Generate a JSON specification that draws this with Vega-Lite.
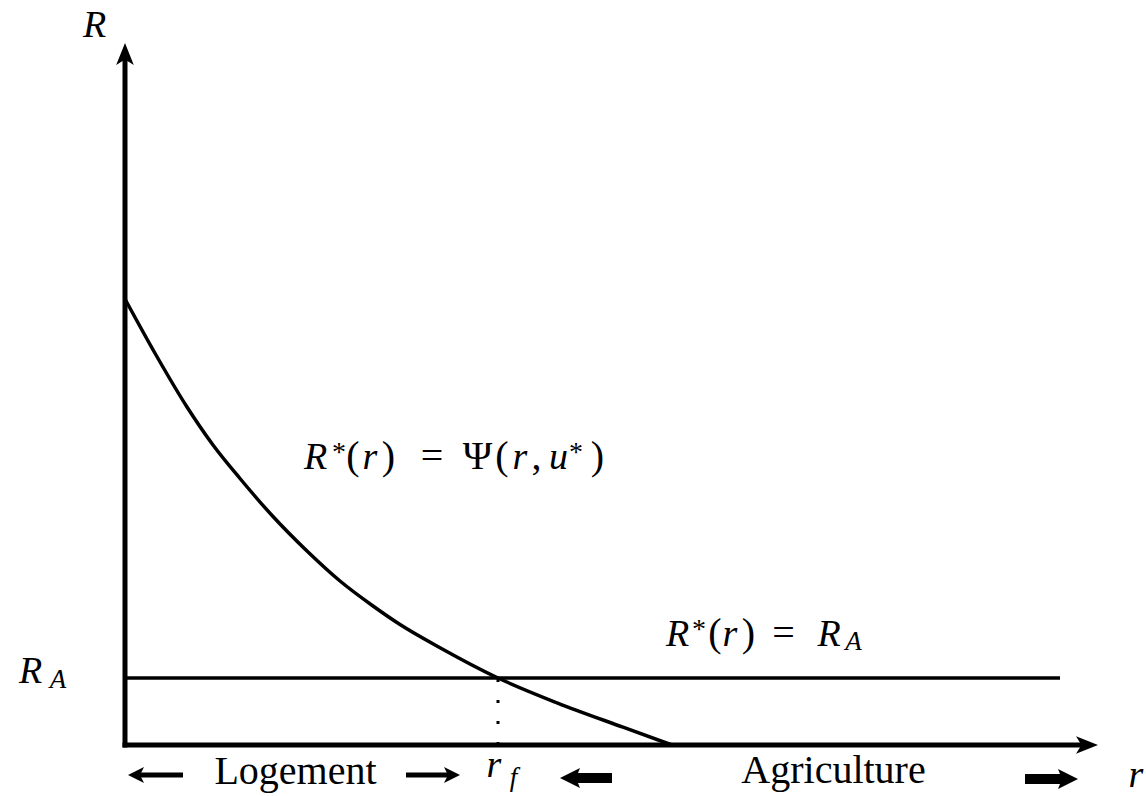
{
  "$schema": "https://vega.github.io/schema/vega-lite/v6.json",
  "width": 1146,
  "height": 796,
  "padding": 0,
  "autosize": "none",
  "background": "white",
  "config": {"view": {"stroke": null}},
  "datasets": {
    "bidRent": [
      {"r": 0.0, "R": 4.46},
      {"r": 0.31, "R": 3.9},
      {"r": 0.62, "R": 3.38},
      {"r": 0.88, "R": 3.0},
      {"r": 1.15, "R": 2.665},
      {"r": 1.48, "R": 2.285},
      {"r": 1.82, "R": 1.94},
      {"r": 2.15, "R": 1.64},
      {"r": 2.48, "R": 1.39},
      {"r": 2.75, "R": 1.205},
      {"r": 3.15, "R": 0.973},
      {"r": 3.73, "R": 0.67},
      {"r": 4.32, "R": 0.422},
      {"r": 4.98, "R": 0.178},
      {"r": 5.47, "R": 0.0}
    ],
    "agriRent": [{"from": 0, "to": 9.35, "RA": 0.67}],
    "frontier": [{"rf": 3.73, "base": 0, "RA": 0.67}],
    "axes": [
      {"name": "R", "x": 0, "y": 0, "x2": 0, "y2": 6.9},
      {"name": "r", "x": 0, "y": 0, "x2": 9.61, "y2": 0}
    ],
    "axisHeads": [
      {"name": "R", "x": 0, "y": 7.02, "dir": "up"},
      {"name": "r", "x": 9.73, "y": 0, "dir": "right"}
    ],
    "thinArrows": [
      {"zone": "Logement", "dir": "left", "tail": 0.58, "neck": 0.12, "tip": 0.03, "y": -0.3},
      {"zone": "Logement", "dir": "right", "tail": 2.81, "neck": 3.26, "tip": 3.35, "y": -0.3}
    ],
    "thickArrows": [
      {"zone": "Agriculture", "dir": "left", "tail": 4.87, "neck": 4.45, "tip": 4.35, "y": -0.33},
      {"zone": "Agriculture", "dir": "right", "tail": 9.0, "neck": 9.43, "tip": 9.53, "y": -0.34}
    ],
    "mathItalic": [
      {"t": "R", "r": -0.305, "R": 7.08},
      {"t": "R", "r": -0.945, "R": 0.62},
      {"t": "r", "r": 10.11, "R": -0.42},
      {"t": "r", "r": 3.69, "R": -0.32},
      {"t": "R", "r": 1.905, "R": 2.76},
      {"t": "r", "r": 2.45, "R": 2.76},
      {"t": "r", "r": 3.95, "R": 2.76},
      {"t": "u", "r": 4.335, "R": 2.76},
      {"t": "R", "r": 5.525, "R": 0.99},
      {"t": "r", "r": 6.05, "R": 0.99},
      {"t": "R", "r": 7.04, "R": 0.99}
    ],
    "upright": [
      {"t": "(", "r": 2.28, "R": 2.76},
      {"t": ")", "r": 2.635, "R": 2.76},
      {"t": "=", "r": 3.07, "R": 2.76},
      {"t": "Ψ", "r": 3.525, "R": 2.76},
      {"t": "(", "r": 3.77, "R": 2.76},
      {"t": ",", "r": 4.115, "R": 2.76},
      {"t": ")", "r": 4.725, "R": 2.76},
      {"t": "(", "r": 5.9, "R": 0.99},
      {"t": ")", "r": 6.235, "R": 0.99},
      {"t": "=", "r": 6.585, "R": 0.99},
      {"t": "Logement", "r": 1.705, "R": -0.39},
      {"t": "Agriculture", "r": 7.085, "R": -0.38}
    ],
    "subscripts": [
      {"t": "A", "r": -0.67, "R": 0.57},
      {"t": "A", "r": 7.285, "R": 0.95},
      {"t": "f", "r": 3.885, "R": -0.41}
    ],
    "stars": [
      {"t": "*", "r": 2.14, "R": 2.84},
      {"t": "*", "r": 4.51, "R": 2.84},
      {"t": "*", "r": 5.74, "R": 1.07}
    ]
  },
  "layer": [
    {
      "data": {"name": "agriRent"},
      "mark": {"type": "rule", "color": "black", "strokeWidth": 3.5, "strokeCap": "butt"},
      "encoding": {
        "x": {"field": "from", "type": "quantitative", "scale": {"domain": [-1.25, 10.21], "nice": false, "zero": false}, "axis": null},
        "x2": {"field": "to"},
        "y": {"field": "RA", "type": "quantitative", "scale": {"domain": [-0.51, 7.45], "nice": false, "zero": false}, "axis": null}
      }
    },
    {
      "data": {"name": "frontier"},
      "mark": {"type": "rule", "color": "black", "strokeWidth": 3, "strokeDash": [3, 18], "strokeCap": "butt"},
      "encoding": {
        "x": {"field": "rf", "type": "quantitative", "scale": {"domain": [-1.25, 10.21], "nice": false, "zero": false}, "axis": null},
        "y": {"field": "base", "type": "quantitative", "scale": {"domain": [-0.51, 7.45], "nice": false, "zero": false}, "axis": null},
        "y2": {"field": "RA"}
      }
    },
    {
      "data": {"name": "bidRent"},
      "mark": {"type": "line", "color": "black", "strokeWidth": 3.5, "interpolate": "monotone", "strokeCap": "butt"},
      "encoding": {
        "x": {"field": "r", "type": "quantitative", "scale": {"domain": [-1.25, 10.21], "nice": false, "zero": false}, "axis": null},
        "y": {"field": "R", "type": "quantitative", "scale": {"domain": [-0.51, 7.45], "nice": false, "zero": false}, "axis": null}
      }
    },
    {
      "data": {"name": "axes"},
      "mark": {"type": "rule", "color": "black", "strokeWidth": 5, "strokeCap": "square"},
      "encoding": {
        "x": {"field": "x", "type": "quantitative", "scale": {"domain": [-1.25, 10.21], "nice": false, "zero": false}, "axis": null},
        "x2": {"field": "x2"},
        "y": {"field": "y", "type": "quantitative", "scale": {"domain": [-0.51, 7.45], "nice": false, "zero": false}, "axis": null},
        "y2": {"field": "y2"}
      }
    },
    {
      "data": {"name": "axisHeads"},
      "transform": [{"filter": "datum.dir === 'up'"}],
      "mark": {"type": "point", "filled": true, "color": "black", "opacity": 1, "strokeWidth": 0, "size": 484, "angle": 270, "shape": "M0,0 L-2,-0.8 L-1.5,0 L-2,0.8 Z"},
      "encoding": {
        "x": {"field": "x", "type": "quantitative", "scale": {"domain": [-1.25, 10.21], "nice": false, "zero": false}, "axis": null},
        "y": {"field": "y", "type": "quantitative", "scale": {"domain": [-0.51, 7.45], "nice": false, "zero": false}, "axis": null}
      }
    },
    {
      "data": {"name": "axisHeads"},
      "transform": [{"filter": "datum.dir === 'right'"}],
      "mark": {"type": "point", "filled": true, "color": "black", "opacity": 1, "strokeWidth": 0, "size": 484, "angle": 0, "shape": "M0,0 L-2,-0.8 L-1.5,0 L-2,0.8 Z"},
      "encoding": {
        "x": {"field": "x", "type": "quantitative", "scale": {"domain": [-1.25, 10.21], "nice": false, "zero": false}, "axis": null},
        "y": {"field": "y", "type": "quantitative", "scale": {"domain": [-0.51, 7.45], "nice": false, "zero": false}, "axis": null}
      }
    },
    {
      "data": {"name": "thinArrows"},
      "mark": {"type": "rule", "color": "black", "strokeWidth": 5, "strokeCap": "butt"},
      "encoding": {
        "x": {"field": "tail", "type": "quantitative", "scale": {"domain": [-1.25, 10.21], "nice": false, "zero": false}, "axis": null},
        "x2": {"field": "neck"},
        "y": {"field": "y", "type": "quantitative", "scale": {"domain": [-0.51, 7.45], "nice": false, "zero": false}, "axis": null}
      }
    },
    {
      "data": {"name": "thinArrows"},
      "transform": [{"filter": "datum.dir === 'left'"}],
      "mark": {"type": "point", "filled": true, "color": "black", "opacity": 1, "strokeWidth": 0, "size": 256, "angle": 180, "shape": "M0,0 L-2,-1 L-1.5,0 L-2,1 Z"},
      "encoding": {
        "x": {"field": "tip", "type": "quantitative", "scale": {"domain": [-1.25, 10.21], "nice": false, "zero": false}, "axis": null},
        "y": {"field": "y", "type": "quantitative", "scale": {"domain": [-0.51, 7.45], "nice": false, "zero": false}, "axis": null}
      }
    },
    {
      "data": {"name": "thinArrows"},
      "transform": [{"filter": "datum.dir === 'right'"}],
      "mark": {"type": "point", "filled": true, "color": "black", "opacity": 1, "strokeWidth": 0, "size": 256, "angle": 0, "shape": "M0,0 L-2,-1 L-1.5,0 L-2,1 Z"},
      "encoding": {
        "x": {"field": "tip", "type": "quantitative", "scale": {"domain": [-1.25, 10.21], "nice": false, "zero": false}, "axis": null},
        "y": {"field": "y", "type": "quantitative", "scale": {"domain": [-0.51, 7.45], "nice": false, "zero": false}, "axis": null}
      }
    },
    {
      "data": {"name": "thickArrows"},
      "mark": {"type": "rule", "color": "black", "strokeWidth": 10, "strokeCap": "butt"},
      "encoding": {
        "x": {"field": "tail", "type": "quantitative", "scale": {"domain": [-1.25, 10.21], "nice": false, "zero": false}, "axis": null},
        "x2": {"field": "neck"},
        "y": {"field": "y", "type": "quantitative", "scale": {"domain": [-0.51, 7.45], "nice": false, "zero": false}, "axis": null}
      }
    },
    {
      "data": {"name": "thickArrows"},
      "transform": [{"filter": "datum.dir === 'left'"}],
      "mark": {"type": "point", "filled": true, "color": "black", "opacity": 1, "strokeWidth": 0, "size": 400, "angle": 180, "shape": "M0,0 L-2,-1 L-1.6,0 L-2,1 Z"},
      "encoding": {
        "x": {"field": "tip", "type": "quantitative", "scale": {"domain": [-1.25, 10.21], "nice": false, "zero": false}, "axis": null},
        "y": {"field": "y", "type": "quantitative", "scale": {"domain": [-0.51, 7.45], "nice": false, "zero": false}, "axis": null}
      }
    },
    {
      "data": {"name": "thickArrows"},
      "transform": [{"filter": "datum.dir === 'right'"}],
      "mark": {"type": "point", "filled": true, "color": "black", "opacity": 1, "strokeWidth": 0, "size": 400, "angle": 0, "shape": "M0,0 L-2,-1 L-1.6,0 L-2,1 Z"},
      "encoding": {
        "x": {"field": "tip", "type": "quantitative", "scale": {"domain": [-1.25, 10.21], "nice": false, "zero": false}, "axis": null},
        "y": {"field": "y", "type": "quantitative", "scale": {"domain": [-0.51, 7.45], "nice": false, "zero": false}, "axis": null}
      }
    },
    {
      "data": {"name": "mathItalic"},
      "mark": {"type": "text", "font": "Liberation Serif", "fontSize": 38, "fontStyle": "italic", "align": "center", "baseline": "alphabetic", "color": "black"},
      "encoding": {
        "x": {"field": "r", "type": "quantitative", "scale": {"domain": [-1.25, 10.21], "nice": false, "zero": false}, "axis": null},
        "y": {"field": "R", "type": "quantitative", "scale": {"domain": [-0.51, 7.45], "nice": false, "zero": false}, "axis": null},
        "text": {"field": "t"}
      }
    },
    {
      "data": {"name": "upright"},
      "mark": {"type": "text", "font": "Liberation Serif", "fontSize": 40, "align": "center", "baseline": "alphabetic", "color": "black"},
      "encoding": {
        "x": {"field": "r", "type": "quantitative", "scale": {"domain": [-1.25, 10.21], "nice": false, "zero": false}, "axis": null},
        "y": {"field": "R", "type": "quantitative", "scale": {"domain": [-0.51, 7.45], "nice": false, "zero": false}, "axis": null},
        "text": {"field": "t"}
      }
    },
    {
      "data": {"name": "subscripts"},
      "mark": {"type": "text", "font": "Liberation Serif", "fontSize": 27, "fontStyle": "italic", "align": "center", "baseline": "alphabetic", "color": "black"},
      "encoding": {
        "x": {"field": "r", "type": "quantitative", "scale": {"domain": [-1.25, 10.21], "nice": false, "zero": false}, "axis": null},
        "y": {"field": "R", "type": "quantitative", "scale": {"domain": [-0.51, 7.45], "nice": false, "zero": false}, "axis": null},
        "text": {"field": "t"}
      }
    },
    {
      "data": {"name": "stars"},
      "mark": {"type": "text", "font": "Liberation Serif", "fontSize": 28, "align": "center", "baseline": "alphabetic", "color": "black"},
      "encoding": {
        "x": {"field": "r", "type": "quantitative", "scale": {"domain": [-1.25, 10.21], "nice": false, "zero": false}, "axis": null},
        "y": {"field": "R", "type": "quantitative", "scale": {"domain": [-0.51, 7.45], "nice": false, "zero": false}, "axis": null},
        "text": {"field": "t"}
      }
    }
  ]
}
